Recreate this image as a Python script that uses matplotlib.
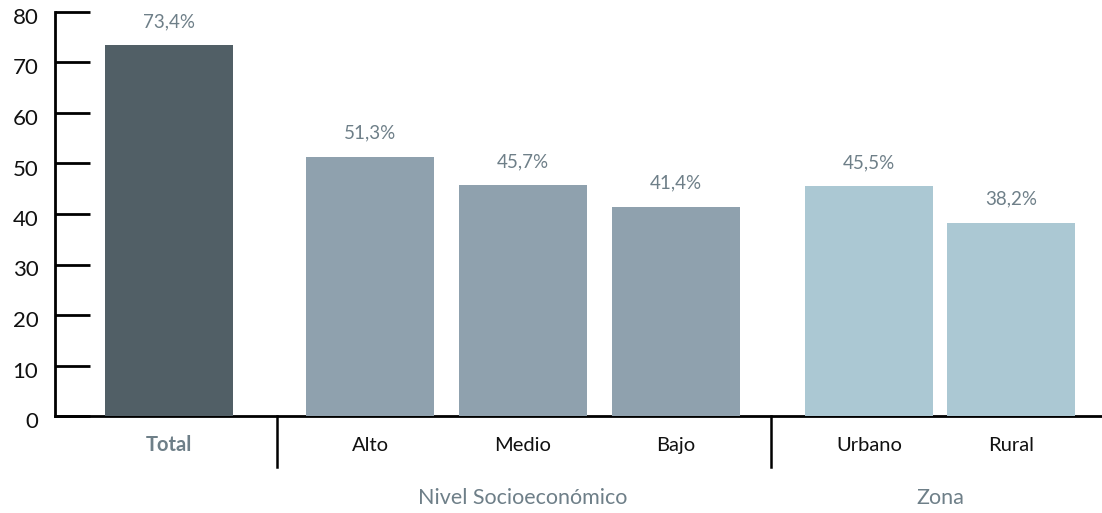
import matplotlib
matplotlib.use("Agg")
import matplotlib.pyplot as plt
import matplotlib.transforms as mtransforms

plt.rcParams['font.family'] = ['Lato', 'DejaVu Sans']

categories = ["Total", "Alto", "Medio", "Bajo", "Urbano", "Rural"]
values = [73.4, 51.3, 45.7, 41.4, 45.5, 38.2]
value_labels = ["73,4%", "51,3%", "45,7%", "41,4%", "45,5%", "38,2%"]
groups = ["Nivel Socioeconómico", "Zona"]
yticks = [0, 10, 20, 30, 40, 50, 60, 70, 80]

colors = ["#515f66", "#8fa1ae", "#8fa1ae", "#8fa1ae", "#abc8d3", "#abc8d3"]
positions = [0.891, 2.461, 3.656, 4.852, 6.359, 7.469]
separators = [1.734, 5.594]
group_pos = [3.656, 6.914]

W, H = 1102, 513
fig = plt.figure(figsize=(W / 100, H / 100), dpi=100)
ax = fig.add_axes([55 / W, (H - 416) / H, 1 - 55 / W, 404 / H])

ax.bar(positions, values, width=1.0, color=colors, zorder=2)
ax.set_xlim(0, (W - 55) / 128)
ax.set_ylim(0, 80)
ax.set_yticks(yticks)
ax.tick_params(axis='y', direction='in', length=25, width=2, labelsize=16, pad=12,
               labelcolor='#111111')
offset = mtransforms.ScaledTranslation(0, -4 / 100, fig.dpi_scale_trans)
for lbl in ax.get_yticklabels():
    lbl.set_transform(lbl.get_transform() + offset)
ax.set_xticks([])
for s in ['top', 'right']:
    ax.spines[s].set_visible(False)
ax.spines['left'].set_linewidth(2)
ax.spines['bottom'].set_linewidth(2)
ax.spines['bottom'].set_zorder(1)

for x, v, t in zip(positions, values, value_labels):
    ax.annotate(t, (x, v), xytext=(0, 11), textcoords='offset points',
                ha='center', va='bottom', fontsize=13.5, color='#6e7f88')

trans = ax.get_xaxis_transform()
for i, (x, c) in enumerate(zip(positions, categories)):
    if i == 0:
        ax.text(x, -0.073, c, transform=trans, ha='center', va='center', fontsize=14.5,
                fontweight='bold', color='#6e7f88')
    else:
        ax.text(x, -0.073, c, transform=trans, ha='center', va='center', fontsize=14.5,
                color='#111111')

for sx in separators:
    ax.plot([sx, sx], [0, -0.127], transform=trans, color='black', lw=1.8, clip_on=False)

for gx, g in zip(group_pos, groups):
    ax.text(gx, -0.203, g, transform=trans, ha='center', va='center', fontsize=15.5,
            color='#6e7f88')

fig.savefig("out.png", dpi=100)
